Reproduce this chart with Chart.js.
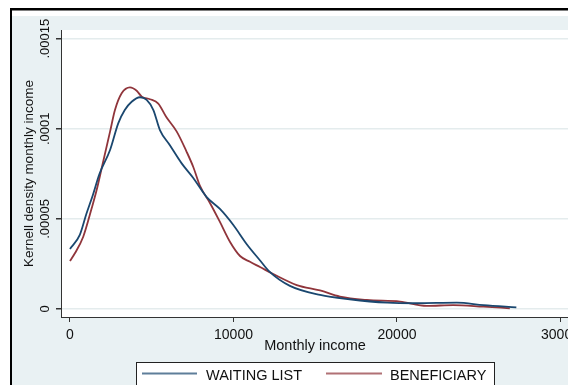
<!DOCTYPE html>
<html>
<head>
<meta charset="utf-8">
<script src="https://cdn.jsdelivr.net/npm/chart.js@4.4.0/dist/chart.umd.min.js"></script>
<style>
  html, body { margin: 0; padding: 0; overflow: hidden; background: #fff; }
  #wrap { width: 600px; height: 385px; }
</style>
</head>
<body>
<div id="wrap"><canvas id="chart" width="600" height="385"></canvas></div>
<script>
// values
const incomeWaiting = [0, 600, 1000, 1400, 1800, 2450, 2950, 3350, 3770, 4280, 4690, 5100, 5500, 6100, 6830, 7540, 8360, 9170, 9990, 10800, 11600, 12200, 13450, 15300, 17100, 19400, 21200, 23650, 25300, 27300];
const densityWaiting = [3.33e-5, 4.11e-5, 5.27e-5, 6.33e-5, 7.49e-5, 8.82e-5, 1.030e-4, 1.104e-4, 1.150e-4, 1.175e-4, 1.160e-4, 1.104e-4, 9.93e-5, 9.10e-5, 8.08e-5, 7.27e-5, 6.21e-5, 5.55e-5, 4.66e-5, 3.61e-5, 2.72e-5, 2.07e-5, 1.28e-5, 7.8e-6, 5.4e-6, 3.5e-6, 3.2e-6, 3.5e-6, 2.1e-6, 9e-7];

const incomeBenef = [0, 300, 810, 1330, 1630, 1940, 2450, 2750, 3160, 3670, 4080, 4390, 4890, 5400, 5890, 6530, 7140, 7540, 7950, 8560, 9170, 9790, 10400, 11010, 11620, 12430, 13870, 15290, 16510, 18150, 20180, 21820, 23440, 25280, 26900];
const densityBenef = [2.66e-5, 3.09e-5, 4.01e-5, 5.60e-5, 6.60e-5, 7.82e-5, 9.84e-5, 1.104e-4, 1.197e-4, 1.230e-4, 1.211e-4, 1.178e-4, 1.164e-4, 1.14e-4, 1.065e-4, 9.84e-5, 8.71e-5, 7.88e-5, 6.83e-5, 5.88e-5, 4.83e-5, 3.72e-5, 2.94e-5, 2.62e-5, 2.33e-5, 1.94e-5, 1.33e-5, 1.03e-5, 6.9e-6, 5.0e-6, 4.1e-6, 1.7e-6, 2.2e-6, 1.3e-6, 4e-7];

const seriesLabels = ['WAITING LIST', 'BENEFICIARY'];
const xTicks = [0, 10000, 20000, 30000];
const yTicks = [0, 0.00005, 0.0001, 0.00015];
const yTickLabels = ['0', '.00005', '.0001', '.00015'];

const FONT = '"Liberation Sans", Arial, sans-serif';
const BLUE = '#1a476f';
const RED = '#90353b';

const toPoints = (xs, ys) => xs.map((x, i) => ({ x, y: ys[i] }));

// background, frame, rotated y labels, boxed legend
const stataFrame = {
  id: 'stataFrame',
  beforeDraw(chart) {
    const { ctx, width, height, chartArea: a } = chart;
    ctx.save();
    ctx.fillStyle = '#fff';
    ctx.fillRect(0, 0, width, height);
    ctx.fillStyle = '#e9f1f3';
    ctx.fillRect(12, 16, width - 12, height - 16);
    ctx.fillStyle = '#fff';
    ctx.fillRect(a.left, a.top, a.right - a.left, a.bottom - a.top);
    ctx.fillStyle = '#000';
    ctx.fillRect(10, 8, width - 10, 2.5);
    ctx.fillRect(10, 8, 2, height - 8);
    ctx.restore();
  },
  afterDraw(chart) {
    const { ctx } = chart;
    const ys = chart.scales.y;
    ctx.save();
    ctx.fillStyle = '#111';
    ctx.font = '13px ' + FONT;
    ctx.textAlign = 'center';
    ctx.textBaseline = 'alphabetic';
    yTicks.forEach((v, i) => {
      ctx.save();
      ctx.translate(ys.right - 12.5, ys.getPixelForValue(v));
      ctx.rotate(-Math.PI / 2);
      ctx.fillText(yTickLabels[i], 0, 0);
      ctx.restore();
    });

    // legend
    ctx.fillStyle = '#fff';
    ctx.fillRect(136, 362, 358, 40);
    ctx.strokeStyle = '#222';
    ctx.lineWidth = 1;
    ctx.strokeRect(136.5, 362.5, 358, 40);
    const slots = [{ x0: 142, x1: 197, tx: 206 }, { x0: 326, x1: 382, tx: 390 }];
    ctx.font = '14.5px ' + FONT;
    ctx.textAlign = 'left';
    chart.data.datasets.forEach((ds, i) => {
      const s = slots[i];
      ctx.save();
      ctx.globalAlpha = 0.7;
      ctx.strokeStyle = ds.borderColor;
      ctx.lineWidth = 2;
      ctx.beginPath();
      ctx.moveTo(s.x0, 373.5);
      ctx.lineTo(s.x1, 373.5);
      ctx.stroke();
      ctx.restore();
      ctx.fillStyle = '#111';
      ctx.fillText(ds.label, s.tx, 379.5);
    });
    ctx.restore();
  }
};

new Chart(document.getElementById('chart'), {
  type: 'line',
  data: {
    datasets: [
      { label: seriesLabels[0], data: toPoints(incomeWaiting, densityWaiting), borderColor: BLUE },
      { label: seriesLabels[1], data: toPoints(incomeBenef, densityBenef), borderColor: RED }
    ]
  },
  options: {
    responsive: false,
    animation: false,
    elements: {
      point: { radius: 0 },
      line: { borderWidth: 1.8, cubicInterpolationMode: 'monotone', fill: false }
    },
    layout: { padding: { left: 12, top: 30, right: 31, bottom: 0 } },
    plugins: { legend: { display: false }, tooltip: { enabled: false } },
    scales: {
      x: {
        type: 'linear',
        min: -550,
        max: 30520,
        afterBuildTicks: s => { s.ticks = xTicks.map(v => ({ value: v })); },
        afterFit: s => { s.height = 68; s.paddingLeft = 0; s.paddingRight = 0; },
        grid: { drawOnChartArea: false, drawTicks: true, tickLength: 5, tickColor: '#333' },
        border: { color: '#333', width: 1 },
        ticks: {
          autoSkip: false, maxRotation: 0, padding: 5, color: '#111',
          font: { family: FONT, size: 14 },
          callback: v => String(v)
        },
        title: {
          display: true, text: 'Monthly income', color: '#111',
          font: { family: FONT, size: 14.5 }, padding: { top: 0, bottom: 30 }
        }
      },
      y: {
        min: -0.00000444,
        max: 0.0001548,
        afterBuildTicks: s => { s.ticks = yTicks.map(v => ({ value: v })); },
        afterFit: s => { s.width = 49; s.paddingTop = 0; s.paddingBottom = 0; },
        grid: { color: '#e4eced', lineWidth: 1.5, drawTicks: true, tickLength: 5, tickColor: '#333' },
        border: { color: '#333', width: 1 },
        ticks: { display: false },
        title: {
          display: true, text: 'Kernell density monthly income', color: '#111',
          font: { family: FONT, size: 13.5 }, padding: { top: 8.7, bottom: 0 }
        }
      }
    }
  },
  plugins: [stataFrame]
});
</script>
</body>
</html>
